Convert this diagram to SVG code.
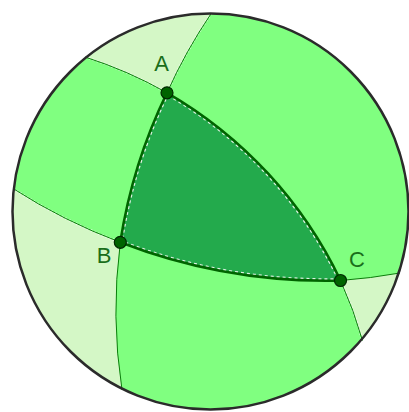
<svg xmlns="http://www.w3.org/2000/svg" width="409" height="412" viewBox="0 0 409 412">
<style>
.bg{fill:#ffffff}
.mid{fill:#80ff80}
.light{fill:#d4f7c6}
.tri{fill:#23aa4c}
.thin{fill:none;stroke:#0b7d0b;stroke-width:1}
.thindash{fill:none;stroke:#ffffff;stroke-width:2.4;stroke-dasharray:2 2;opacity:0.6}
.tridash{fill:none;stroke:#ffffff;stroke-width:5;stroke-dasharray:3 3;opacity:0.85}
.edge{fill:none;stroke:#006400;stroke-width:2.6;stroke-linecap:round}
.rim{fill:none;stroke:#2b2b2b;stroke-width:2.5}
.pt{fill:#006400;stroke:#002a00;stroke-width:1.2}
.lbl{font-family:"Liberation Sans",Arial,sans-serif;font-size:22px;fill:#1a6e1a;text-anchor:middle}
</style>
<defs>
<path id="triPath" d="M167,92.8 A524,524 0 0 0 120.3,242.3 A570,570 0 0 0 340.5,280.5 A431,431 0 0 0 167,92.8 Z"/>
<clipPath id="triClip"><use href="#triPath"/></clipPath>
<clipPath id="disk"><circle cx="210.5" cy="211.5" r="198"/></clipPath>
</defs>
<rect class="bg" x="0" y="0" width="409" height="412"/>
<g id="regions">
<circle class="mid" cx="210.5" cy="211.5" r="198"/>
<g clip-path="url(#disk)">
<path class="light" d="M85,57 A431,431 0 0 1 167,92.8 A524,524 0 0 1 211.5,13 A198,198 0 0 0 85,57 Z"/>
<path class="light" d="M13,188.5 A570,570 0 0 0 120.3,242.3 A524,524 0 0 0 122,390 A198,198 0 0 1 13,188.5 Z"/>
<path class="light" d="M400,273 A570,570 0 0 1 340.5,280.5 A431,431 0 0 1 362.5,340.5 A198,198 0 0 0 400,273 Z"/>
</g>
<use href="#triPath" class="tri"/>
<use href="#triPath" class="tridash" clip-path="url(#triClip)"/>
</g>
<g id="connectors">
<path class="thindash" d="M211.5,13 A524,524 0 0 0 167,92.8"/>
<path class="thindash" d="M85,57 A431,431 0 0 1 167,92.8"/>
<path class="thindash" d="M13,188.5 A570,570 0 0 0 120.3,242.3"/>
<path class="thindash" d="M340.5,280.5 A431,431 0 0 1 362.5,340.5"/>
<path class="thin" d="M211.5,13 A524,524 0 0 0 167,92.8"/>
<path class="thin" d="M120.3,242.3 A524,524 0 0 0 122,390"/>
<path class="thin" d="M85,57 A431,431 0 0 1 167,92.8"/>
<path class="thin" d="M340.5,280.5 A431,431 0 0 1 362.5,340.5"/>
<path class="thin" d="M13,188.5 A570,570 0 0 0 120.3,242.3"/>
<path class="thin" d="M340.5,280.5 A570,570 0 0 0 400,273"/>
<path class="edge" d="M167,92.8 A524,524 0 0 0 120.3,242.3"/>
<path class="edge" d="M120.3,242.3 A570,570 0 0 0 340.5,280.5"/>
<path class="edge" d="M340.5,280.5 A431,431 0 0 0 167,92.8"/>
<circle class="rim" cx="210.5" cy="211.5" r="198"/>
</g>
<g id="A">
<circle class="pt" cx="167" cy="92.8" r="6"/>
<text class="lbl" x="161.5" y="71">A</text>
</g>
<g id="B">
<circle class="pt" cx="120.3" cy="242.3" r="6"/>
<text class="lbl" x="104" y="263">B</text>
</g>
<g id="C">
<circle class="pt" cx="340.5" cy="280.5" r="6"/>
<text class="lbl" x="357" y="267">C</text>
</g>
</svg>
